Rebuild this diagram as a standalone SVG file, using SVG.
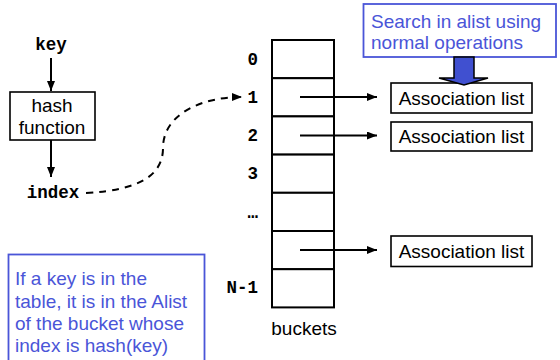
<svg xmlns="http://www.w3.org/2000/svg" width="560" height="360" viewBox="0 0 560 360">
<style>
.sans{font-family:"Liberation Sans",Arial,sans-serif;font-size:19px;fill:#000}
.blue{fill:#4a55d8}
.mono{font-family:"Liberation Mono","Courier New",monospace;font-size:17.5px;font-weight:bold;fill:#000}
.box{fill:#fff;stroke:#000;stroke-width:1.6}
.bbox{fill:#fff;stroke:#4a55d8;stroke-width:1.8}
.cell{fill:#fff;stroke:#000;stroke-width:2}
.ln{stroke:#000;stroke-width:2;fill:none}
</style>
<defs>
<marker id="ah" viewBox="0 0 10 8" refX="10" refY="4" markerWidth="11" markerHeight="8" markerUnits="userSpaceOnUse" orient="auto">
<path d="M0,0 L10,4 L0,8 Z" fill="#000"/>
</marker>
</defs>
<rect width="560" height="360" fill="#fff"/>

<g id="key"><text class="mono" x="51" y="50" text-anchor="middle">key</text></g>
<g id="hash"><rect class="box" x="10" y="92" width="85" height="48"/>
<text class="sans" x="52" y="112" text-anchor="middle">hash</text>
<text class="sans" x="52" y="134" text-anchor="middle">function</text></g>
<g id="index"><text class="mono" x="53" y="198" text-anchor="middle">index</text></g>

<g id="buckets">
<rect class="cell" x="272" y="40" width="62" height="38.2"/>
<rect class="cell" x="272" y="78.2" width="62" height="38.2"/>
<rect class="cell" x="272" y="116.4" width="62" height="38.2"/>
<rect class="cell" x="272" y="154.6" width="62" height="38.2"/>
<rect class="cell" x="272" y="192.8" width="62" height="38.2"/>
<rect class="cell" x="272" y="231" width="62" height="38.2"/>
<rect class="cell" x="272" y="269.2" width="62" height="38.2"/>
<text class="mono" x="258" y="65" text-anchor="end">0</text>
<text class="mono" x="258" y="103" text-anchor="end">1</text>
<text class="mono" x="258" y="141" text-anchor="end">2</text>
<text class="mono" x="258" y="179" text-anchor="end">3</text>
<text class="mono" x="258" y="218" text-anchor="end">…</text>
<text class="mono" x="258" y="293" text-anchor="end">N-1</text>
<text class="sans" x="304" y="335" text-anchor="middle">buckets</text>
</g>

<g id="alist1"><rect class="box" x="391" y="83" width="141" height="30"/><text class="sans" x="461.5" y="104.5" text-anchor="middle">Association list</text></g>
<g id="alist2"><rect class="box" x="391" y="122" width="141" height="29"/><text class="sans" x="461.5" y="143" text-anchor="middle">Association list</text></g>
<g id="alist3"><rect class="box" x="391" y="236" width="141" height="30.5"/><text class="sans" x="461.5" y="258" text-anchor="middle">Association list</text></g>

<g id="note-search"><rect class="bbox" x="363.5" y="4" width="192.5" height="53"/>
<text class="sans blue" x="371" y="27.5">Search in alist using</text>
<text class="sans blue" x="371" y="48.5">normal operations</text></g>

<g id="note-bucket"><rect class="bbox" x="8.5" y="254.5" width="196" height="110"/>
<text class="sans blue" x="15" y="285">If a key is in the</text>
<text class="sans blue" x="15" y="308">table, it is in the Alist</text>
<text class="sans blue" x="15" y="330">of the bucket whose</text>
<text class="sans blue" x="15" y="352">index is hash(key)</text></g>

<g id="connectors">
<line class="ln" x1="51" y1="58" x2="51" y2="91" marker-end="url(#ah)"/>
<line class="ln" x1="51" y1="140" x2="51" y2="177" marker-end="url(#ah)"/>
<path class="ln" d="M86,193 C140,190 163,175 163,148 C163,115 200,97 242,97" stroke-dasharray="7,6" marker-end="url(#ah)"/>
<line class="ln" x1="300" y1="97" x2="377" y2="97" marker-end="url(#ah)"/>
<line class="ln" x1="300" y1="135.5" x2="377" y2="135.5" marker-end="url(#ah)"/>
<line class="ln" x1="300" y1="250" x2="377" y2="250" marker-end="url(#ah)"/>
<path d="M454,57 L474,57 L474,78 L488,78 L464,85 L439,78 L454,78 Z" fill="#4050d0" stroke="#000" stroke-width="1.5"/>
</g>
</svg>
